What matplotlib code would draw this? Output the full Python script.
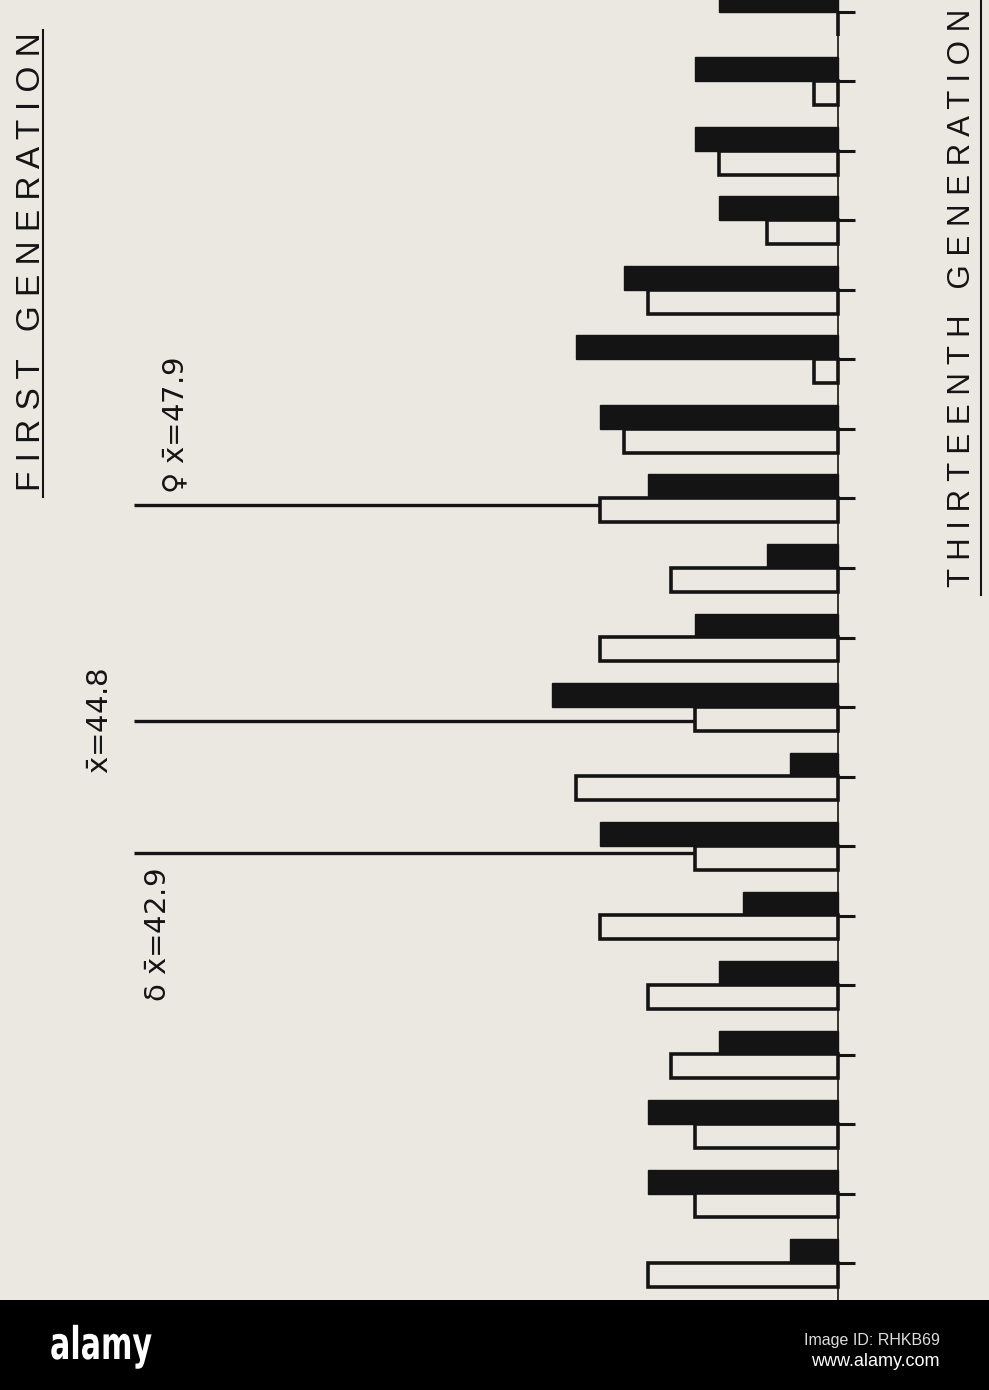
import matplotlib
matplotlib.use("Agg")
import matplotlib.pyplot as plt
from matplotlib.font_manager import FontProperties
from matplotlib.lines import Line2D
from matplotlib.patches import PathPatch, Rectangle
from matplotlib.textpath import TextPath
from matplotlib.transforms import Affine2D

# figure size in pixels; the lower 90 px hold the stock-photo banner
W, H = 989, 1390
PLOT_H = 1300

# class values (rotated histogram, largest class at the top)
class_values = [55, 54, 53, 52, 51, 50, 49, 48, 47, 46, 45, 44, 43, 42, 41, 40, 39, 38, 37]
# solid bars and open bars of each class
black_counts = [5, 6, 6, 5, 9, 11, 10, 8, 3, 6, 12, 2, 10, 4, 5, 5, 8, 8, 2]
white_counts = [0, 1, 5, 3, 8, 1, 9, 10, 7, 10, 6, 11, 6, 10, 8, 7, 6, 6, 8]

mean_female = 47.9
mean_all = 44.8
mean_male = 42.9

PAPER = "#ebe8e1"
INK = "#141414"

# scale of the printed figure
px_per_count = 23.8
px_per_unit = 69.5
base_x = 838
line_start_px = 134
bar_h = 24 / px_per_unit

fig = plt.figure(figsize=(W / 100, H / 100), dpi=100, facecolor=PAPER)
ax = fig.add_axes([0, (H - PLOT_H) / H, 1, PLOT_H / H])
ax.set_facecolor(PAPER)
ax.axis("off")

# counts grow to the left of the baseline
ax.set_xlim(base_x / px_per_count, -(W - base_x) / px_per_count)
top_val = class_values[0] + 12 / px_per_unit
ax.set_ylim(top_val - PLOT_H / px_per_unit, top_val)

ax.barh(class_values, black_counts, height=bar_h, align="edge",
        color=INK, edgecolor=INK, linewidth=1, zorder=3)
ax.barh([v - bar_h for v in class_values], white_counts, height=bar_h, align="edge",
        facecolor=PAPER, edgecolor=INK, linewidth=2.6, zorder=3)

# baseline and little class ticks right of it
ax.axvline(0, color=INK, lw=1.2, zorder=4)
ax.hlines(class_values, 0, -0.7, color=INK, lw=2.2, zorder=4)

# mean lines
line_left = (base_x - line_start_px) / px_per_count
ax.hlines([mean_female, mean_all, mean_male], 0, line_left, color=INK, lw=2.4, zorder=2)

xbar = r"$\bar{\mathrm{x}}$"
lab_size = 21
ax.annotate(f"♀ {xbar}={mean_female}", xy=(line_left, mean_female),
            xytext=(31, 8), textcoords="offset points", rotation=90,
            ha="center", va="bottom", fontsize=lab_size, color=INK)
ax.annotate(f"{xbar}={mean_all}", xy=(line_left, mean_all),
            xytext=(-14, 0), textcoords="offset points", rotation=90,
            ha="right", va="center", fontsize=lab_size, color=INK)
ax.annotate(f"δ {xbar}={mean_male}", xy=(line_left, mean_male),
            xytext=(18, -11), textcoords="offset points", rotation=90,
            ha="center", va="top", fontsize=lab_size, color=INK)

# titles written sideways, underlined
fig.text(32 / W, 1 - 262 / H, "F I R S T   G E N E R A T I O N", rotation=90,
         ha="center", va="center", fontsize=24, family="Liberation Sans", color=INK)
fig.add_artist(Line2D([43 / W, 43 / W], [1 - 30 / H, 1 - 497 / H], color=INK, lw=1.5))

fig.text(962 / W, 1 - 298 / H, "T H I R T E E N T H   G E N E R A T I O N", rotation=90,
         ha="center", va="center", fontsize=22.5, family="Liberation Sans", color=INK)
fig.add_artist(Line2D([981 / W, 981 / W], [1.0, 1 - 595 / H], color=INK, lw=1.5))

# banner at the bottom
fig.add_artist(Rectangle((0, 0), 1, (H - PLOT_H) / H, transform=fig.transFigure,
                         facecolor="black", edgecolor="none"))
# condensed bold logo: squeeze the glyph outlines sideways (pixel coordinates)
logo = TextPath((0, 0), "alamy", size=45, prop=FontProperties(family="DejaVu Sans", weight="bold"))
logo_tf = Affine2D().scale(0.67, 1.0).translate(50, H - 1359)
fig.add_artist(PathPatch(logo, transform=logo_tf + fig.dpi_scale_trans.inverted() + fig.dpi_scale_trans,
                         facecolor="white", edgecolor="none"))
fig.text(940 / W, 1 - 1341 / H, "Image ID: RHKB69", color="#dddddd", fontsize=11.5,
         family="Liberation Sans", ha="right", va="center")
fig.text(940 / W, 1 - 1361 / H, "www.alamy.com", color="white", fontsize=13,
         family="Liberation Sans", ha="right", va="center")

fig.savefig("out.png", dpi=100, facecolor=PAPER)
